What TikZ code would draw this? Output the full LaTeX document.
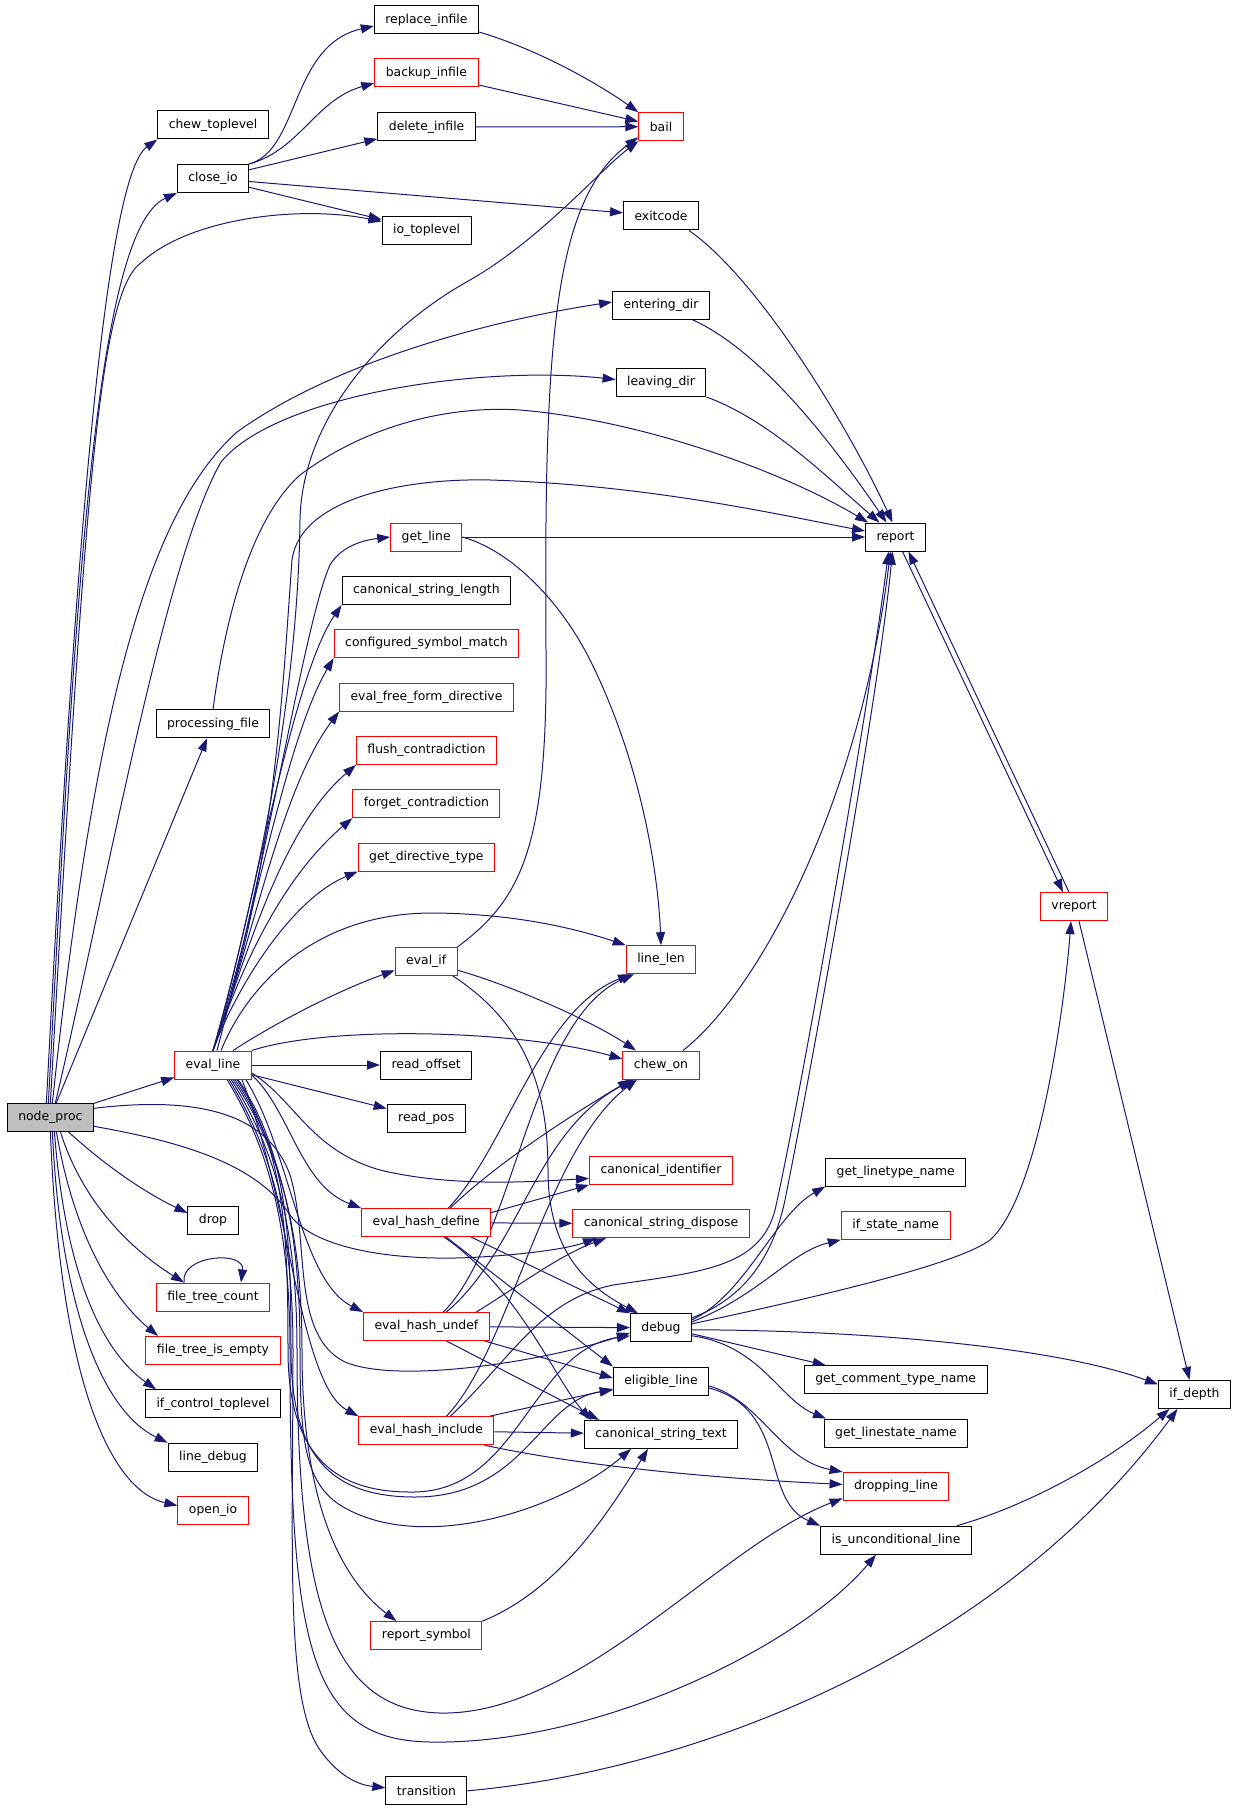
\documentclass[tikz,border=0pt]{standalone}
\usepackage{fontspec}
\setmainfont{DejaVu Sans}
\usetikzlibrary{arrows.meta}
\definecolor{edgeblue}{HTML}{191970}
\definecolor{nodegray}{HTML}{BFBFBF}
\pgfdeclarelayer{edges}
\pgfsetlayers{edges,main}

\begin{document}
\begin{tikzpicture}[x=1pt,y=-1pt,
  fn/.style={draw=black,fill=white,line width=1pt,minimum height=28pt,inner xsep=11pt,inner ysep=0pt,font=\fontsize{12.4}{14}\selectfont},
  fnred/.style={fn,draw=red},
  calls/.style={draw=edgeblue,line width=1pt,-{Triangle[length=13pt,width=9pt]}}]
\useasboundingbox (0,0) rectangle (1237,1811);

% caller
\node[fn,fill=nodegray] (nodeproc) at (50.4,1117.3) {node\_proc};

% first column
\node[fn] (chewtop) at (213,125) {chew\_toplevel};
\node[fn] (closeio) at (213,178.5) {close\_io};
\node[fn] (procfile) at (213,723.8) {processing\_file};
\node[fnred] (evalline) at (213,1065) {eval\_line};
\node[fn] (drop) at (213,1220) {drop};
\node[fnred] (ftcount) at (213,1297) {file\_tree\_count};
\node[fnred] (ftempty) at (213,1350.4) {file\_tree\_is\_empty};
\node[fn] (ifctrl) at (213,1403.8) {if\_control\_toplevel};
\node[fn] (linedebug) at (213,1457.2) {line\_debug};
\node[fnred] (openio) at (213,1510.6) {open\_io};

% second column
\node[fn] (replace) at (426.4,20) {replace\_infile};
\node[fnred] (backup) at (426.4,73) {backup\_infile};
\node[fn] (delete) at (426.6,127) {delete\_infile};
\node[fn] (iotop) at (426.6,230.5) {io\_toplevel};
\node[fnred] (getline) at (426.2,537) {get\_line};
\node[fn] (cslength) at (426.4,590.6) {canonical\_string\_length};
\node[fnred] (csmatch) at (426.5,643.6) {configured\_symbol\_match};
\node[fnred] (freeform) at (426.5,697) {eval\_free\_form\_directive};
\node[fnred] (flush) at (426.4,750.4) {flush\_contradiction};
\node[fnred] (forget) at (426.4,803.6) {forget\_contradiction};
\node[fnred] (dirtype) at (426.4,857) {get\_directive\_type};
\node[fnred] (evalif) at (426.2,961.3) {eval\_if};
\node[fn] (readoff) at (426.2,1065) {read\_offset};
\node[fn] (readpos) at (426.2,1118.4) {read\_pos};
\node[fnred] (hdefine) at (426.2,1222.6) {eval\_hash\_define};
\node[fnred] (hundef) at (426.4,1326.5) {eval\_hash\_undef};
\node[fnred] (hinclude) at (426.4,1430.7) {eval\_hash\_include};
\node[fnred] (repsym) at (426.4,1635.6) {report\_symbol};
\node[fn] (transition) at (426.4,1790.8) {transition};

% third column
\node[fnred] (bail) at (661,126.7) {bail};
\node[fn] (exitcode) at (661,216) {exitcode};
\node[fn] (entering) at (661,305) {entering\_dir};
\node[fn] (leaving) at (661,382.5) {leaving\_dir};
\node[fnred] (linelen) at (661,959.7) {line\_len};
\node[fnred] (chewon) at (661,1065) {chew\_on};
\node[fnred] (canid) at (661,1170.4) {canonical\_identifier};
\node[fnred] (csdispose) at (661,1223.7) {canonical\_string\_dispose};
\node[fn] (debug) at (661,1327.8) {debug};
\node[fn] (eligible) at (661,1381) {eligible\_line};
\node[fn] (cstext) at (661,1434.4) {canonical\_string\_text};

% fourth column and beyond
\node[fn] (report) at (895.5,537) {report};
\node[fn] (linetype) at (895.7,1172) {get\_linetype\_name};
\node[fnred] (statename) at (895.7,1225.3) {if\_state\_name};
\node[fn] (commenttype) at (895.7,1379.7) {get\_comment\_type\_name};
\node[fn] (linestate) at (896,1433) {get\_linestate\_name};
\node[fnred] (dropping) at (896,1486.4) {dropping\_line};
\node[fn] (uncond) at (896,1540.2) {is\_unconditional\_line};
\node[fnred] (vreport) at (1074,906.6) {vreport};
\node[fn] (ifdepth) at (1194.5,1394.4) {if\_depth};

\begin{pgfonlayer}{edges}
% node_proc calls
\draw[calls] ([xshift=-4pt]nodeproc.north) .. controls (70,650) and (100,180) .. (chewtop.south west);
\draw[calls] ([xshift=-2pt]nodeproc.north) .. controls (75,600) and (95,230) .. (closeio.south west);
\draw[calls] (nodeproc.north) .. controls (85,480) and (100,290) .. (142,262) .. controls (190,218) and (300,205) .. ([yshift=9pt]iotop.west);
\draw[calls] ([xshift=2pt]nodeproc.north) .. controls (95,700) and (150,510) .. (237,432) .. controls (330,365) and (480,322) .. ([yshift=3pt]entering.west);
\draw[calls] ([xshift=5pt]nodeproc.north) .. controls (110,870) and (165,560) .. (221,462) .. controls (276,395) and (480,365) .. ([yshift=3pt]leaving.west);
\draw[calls] (nodeproc) -- (procfile);
\draw[calls] (nodeproc) -- (evalline);
\draw[calls] ([xshift=18pt]nodeproc.south) .. controls (110,1170) and (150,1195) .. ([yshift=7pt]drop.west);
\draw[calls] ([xshift=10pt]nodeproc.south) .. controls (85,1210) and (140,1255) .. ([xshift=-29pt]ftcount.north);
\draw[calls] ([xshift=6pt]nodeproc.south) .. controls (75,1240) and (115,1300) .. ([xshift=-55pt]ftempty.north);
\draw[calls] ([xshift=4pt]nodeproc.south) .. controls (65,1270) and (100,1350) .. ([xshift=-57pt]ifctrl.north);
\draw[calls] ([xshift=2pt]nodeproc.south) .. controls (60,1300) and (100,1410) .. (linedebug.north west);
\draw[calls] (nodeproc.south) .. controls (60,1380) and (110,1490) .. ([yshift=5pt]openio.west);
\draw[calls] ([yshift=9pt]nodeproc.east) .. controls (180,1098) and (265,1105) .. (290,1175) .. controls (310,1240) and (290,1335) .. (345,1362) .. controls (400,1385) and (550,1360) .. ([yshift=-5pt]debug.west);
\draw[calls] ([yshift=-9pt]nodeproc.east) .. controls (170,1140) and (255,1160) .. (290,1215) .. controls (315,1250) and (400,1262) .. (480,1257) .. controls (530,1254) and (570,1248) .. ([xshift=-65pt]csdispose.south);
\draw[calls] ([xshift=-29pt]ftcount.north) .. controls (180,1255) and (245,1250) .. ([xshift=28pt]ftcount.north);

% close_io and the files
\draw[calls] (closeio.north east) .. controls (300,150) and (290,45) .. ([yshift=-6pt]replace.west);
\draw[calls] (closeio.north east) .. controls (300,150) and (315,100) .. ([yshift=-10pt]backup.west);
\draw[calls] (closeio) -- (delete);
\draw[calls] (closeio) -- (iotop);
\draw[calls] (closeio) -- (exitcode);
\draw[calls] ([yshift=-12pt]replace.east) .. controls (540,50) and (600,85) .. (bail.north west);
\draw[calls] (backup) -- (bail);
\draw[calls] (delete) -- (bail);

% into report
\draw[calls] ([xshift=-10pt]exitcode.south east) .. controls (760,280) and (850,430) .. ([xshift=-3pt]report.north);
\draw[calls] ([xshift=-18pt]entering.south east) .. controls (760,350) and (830,440) .. ([xshift=-9pt]report.north);
\draw[calls] (leaving.south east) .. controls (770,420) and (830,480) .. ([xshift=-16pt]report.north);
\draw[calls] (procfile.north) .. controls (225,620) and (250,520) .. (300,475) .. controls (360,430) and (440,405) .. (520,410) .. controls (640,420) and (780,470) .. ([xshift=3pt]report.north west);
\draw[calls] (getline) -- (report);
\draw[calls] (getline.east) .. controls (510,550) and (560,600) .. (590,660) .. controls (640,760) and (658,870) .. (linelen.north);

% eval_line upwards
\draw[calls] (evalline.north) .. controls (255,900) and (298,700) .. (300,520) .. controls (302,420) and (380,330) .. (470,280) .. controls (540,240) and (600,170) .. (bail.south west);
\draw[calls] (evalline.north) .. controls (275,880) and (283,680) .. (292,560) .. controls (300,500) and (400,478) .. (490,480) .. controls (650,485) and (780,515) .. ([yshift=6pt]report.west);
\draw[calls] ([xshift=4pt]evalline.north) .. controls (268,860) and (305,620) .. (330,565) .. controls (342,545) and (365,540) .. (getline.west);
\draw[calls] (evalline.north) .. controls (250,930) and (290,680) .. (cslength.south west);
\draw[calls] (evalline.north) .. controls (250,940) and (285,740) .. (csmatch.south west);
\draw[calls] (evalline.north) .. controls (250,950) and (280,790) .. (freeform.south west);
\draw[calls] (evalline.north) .. controls (245,960) and (280,830) .. (flush.south west);
\draw[calls] (evalline.north) .. controls (240,970) and (280,880) .. (forget.south west);
\draw[calls] (evalline.north) .. controls (235,990) and (290,900) .. (dirtype.south west);
\draw[calls] ([xshift=8pt]evalline.north) .. controls (250,980) and (320,912) .. (435,913) .. controls (520,914) and (580,930) .. (linelen.north west);
\draw[calls] ([xshift=20pt]evalline.north) .. controls (280,1020) and (340,990) .. ([yshift=-9pt]evalif.west);
\draw[calls] (evalline.north east) .. controls (330,1025) and (520,1030) .. ([yshift=6pt]chewon.west);
\draw[calls] (evalline) -- (readoff);
\draw[calls] (evalline) -- (readpos);

% eval_line downwards
\draw[calls] ([yshift=-8pt]evalline.east) .. controls (295,1100) and (310,1150) .. (380,1170) .. controls (450,1187) and (530,1182) .. ([yshift=-8pt]canid.west);
\draw[calls] ([yshift=-10pt]evalline.east) .. controls (290,1110) and (300,1185) .. (hdefine.north west);
\draw[calls] ([xshift=-6pt]evalline.south east) .. controls (290,1150) and (300,1280) .. (hundef.north west);
\draw[calls] ([xshift=-10pt]evalline.south east) .. controls (290,1200) and (300,1385) .. (hinclude.north west);
\draw[calls] ([xshift=20pt]evalline.south) .. controls (280,1150) and (302,1230) .. (302,1350) .. controls (302,1480) and (330,1570) .. ([xshift=-30pt]repsym.north);
\draw[calls] ([xshift=16pt]evalline.south) .. controls (272,1150) and (293,1230) .. (293,1350) .. controls (293,1550) and (285,1700) .. (320,1750) .. controls (340,1778) and (360,1785) .. ([yshift=3pt]transition.west);
\draw[calls] ([xshift=22pt]evalline.south) .. controls (282,1150) and (300,1230) .. (300,1350) .. controls (300,1440) and (305,1482) .. (340,1505) .. controls (420,1555) and (560,1510) .. ([xshift=-30pt]cstext.south);
\draw[calls] ([xshift=18pt]evalline.south) .. controls (276,1150) and (297,1230) .. (297,1350) .. controls (297,1600) and (330,1710) .. (440,1713) .. controls (580,1716) and (720,1545) .. ([yshift=-12pt]dropping.west);
\draw[calls] ([xshift=14pt]evalline.south) .. controls (270,1150) and (290,1230) .. (290,1350) .. controls (290,1650) and (310,1740) .. (430,1742) .. controls (600,1745) and (800,1645) .. ([xshift=-20pt]uncond.south);
\draw[calls] ([xshift=24pt]evalline.south) .. controls (284,1150) and (288,1230) .. (288,1350) .. controls (288,1450) and (330,1492) .. (410,1492) .. controls (520,1494) and (530,1350) .. ([yshift=-8pt]debug.west);
\draw[calls] ([xshift=25pt]evalline.south) .. controls (286,1150) and (291,1230) .. (291,1350) .. controls (291,1455) and (330,1497) .. (415,1497) .. controls (525,1497) and (540,1400) .. ([yshift=-9pt]eligible.west);

% eval_if
\draw[calls] (evalif.north east) .. controls (520,900) and (548,850) .. (546,650) .. controls (544,350) and (552,200) .. ([yshift=4pt]bail.south west);
\draw[calls] ([yshift=-9pt]evalif.east) .. controls (510,985) and (590,1020) .. ([xshift=-25pt]chewon.north);
\draw[calls] ([xshift=-5pt]evalif.south east) .. controls (520,1020) and (548,1080) .. (548,1170) .. controls (548,1250) and (585,1285) .. ([xshift=8pt]debug.north west);

% eval_hash_define
\draw[calls] (hdefine) -- (csdispose);
\draw[calls] ([yshift=10pt]hdefine.east) -- (canid.south west);
\draw[calls] ([xshift=24pt]hdefine.north) .. controls (500,1160) and (580,1110) .. ([xshift=-30pt]chewon.south);
\draw[calls] ([xshift=22pt]hdefine.north) .. controls (505,1150) and (540,1010) .. ([xshift=-30pt]linelen.south);
\draw[calls] ([xshift=-20pt]hdefine.south east) -- (debug.north west);
\draw[calls] ([xshift=20pt]hdefine.south) -- (eligible.north west);
\draw[calls] ([xshift=18pt]hdefine.south) .. controls (520,1290) and (555,1380) .. ([xshift=-70pt]cstext.north);

% eval_hash_undef
\draw[calls] (hundef) -- (debug);
\draw[calls] ([xshift=-5pt]hundef.south east) -- ([yshift=3pt]eligible.west);
\draw[calls] ([xshift=20pt]hundef.south) -- ([xshift=-62pt]cstext.north);
\draw[calls] ([xshift=20pt]hundef.north) .. controls (520,1250) and (535,1130) .. ([xshift=-27pt]chewon.south);
\draw[calls] ([xshift=17pt]hundef.north) .. controls (515,1240) and (530,1020) .. ([xshift=-27pt]linelen.south);
\draw[calls] ([xshift=50pt]hundef.north) .. controls (520,1285) and (560,1255) .. ([xshift=-55pt]csdispose.south);

% eval_hash_include
\draw[calls] (hinclude) -- (cstext);
\draw[calls] ([xshift=-5pt]hinclude.north east) -- ([yshift=-8pt]eligible.west);
\draw[calls] ([xshift=-10pt]hinclude.south east) .. controls (600,1470) and (750,1480) .. ([yshift=2pt]dropping.west);
\draw[calls] ([xshift=20pt]hinclude.north) .. controls (510,1350) and (545,1150) .. ([xshift=-24pt]chewon.south);
\draw[calls] ([xshift=24pt]hinclude.north) .. controls (510,1360) and (540,1300) .. (613,1285) .. controls (700,1272) and (760,1268) .. (775,1210) .. controls (800,1100) and (870,700) .. ([xshift=-7pt]report.south);

\draw[calls] (repsym.north east) .. controls (560,1590) and (610,1510) .. ([xshift=-13pt]cstext.south);
\draw[calls] (transition.east) .. controls (700,1770) and (1000,1650) .. ([xshift=-17pt]ifdepth.south);

% eligible_line
\draw[calls] ([yshift=-5pt]eligible.east) .. controls (760,1400) and (780,1460) .. (dropping.north west);
\draw[calls] ([yshift=-7pt]eligible.east) .. controls (790,1410) and (760,1500) .. (uncond.north west);
\draw[calls] ([xshift=-15pt]uncond.north east) .. controls (1030,1505) and (1110,1460) .. ([xshift=-25pt]ifdepth.south);

% debug
\draw[calls] ([yshift=8pt]debug.east) .. controls (745,1295) and (775,1215) .. (linetype.south west);
\draw[calls] ([yshift=6pt]debug.east) .. controls (760,1295) and (790,1252) .. (statename.south west);
\draw[calls] ([yshift=-6pt]debug.east) -- ([xshift=-70pt]commenttype.north);
\draw[calls] ([yshift=-8pt]debug.east) .. controls (760,1345) and (780,1400) .. ([xshift=-70pt]linestate.north);
\draw[calls] ([yshift=-2pt]debug.east) .. controls (850,1330) and (1050,1345) .. ([yshift=10pt]ifdepth.west);
\draw[calls] ([yshift=4pt]debug.east) .. controls (850,1290) and (960,1262) .. (990,1240) .. controls (1040,1195) and (1065,1000) .. ([xshift=-3pt]vreport.south);
\draw[calls] ([yshift=10pt]debug.east) .. controls (740,1300) and (772,1262) .. (785,1200) .. controls (815,1050) and (878,700) .. ([xshift=-3pt]report.south);

\draw[calls] ([xshift=22pt]chewon.north) .. controls (760,990) and (860,800) .. ([xshift=-5pt]report.south);

% report and vreport
\draw[calls] ([xshift=7pt]report.south) -- ([xshift=-11pt]vreport.north);
\draw[calls] ([xshift=-5pt]vreport.north) -- ([xshift=13pt]report.south);
\draw[calls] ([xshift=5pt]vreport.south) -- ([xshift=-5pt]ifdepth.north);
\end{pgfonlayer}

\end{tikzpicture}
\end{document}
